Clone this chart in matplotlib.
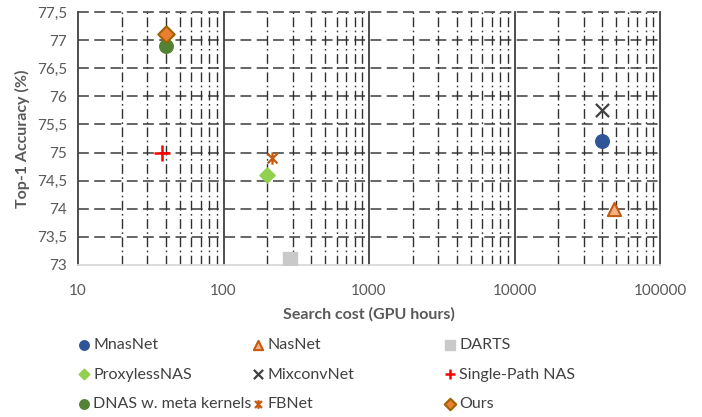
import numpy as np
import matplotlib
matplotlib.use("Agg")
import matplotlib.pyplot as plt
from matplotlib.path import Path
from matplotlib.ticker import FixedLocator, FuncFormatter, NullFormatter

plt.rcParams['font.family'] = ['Lato', 'DejaVu Sans']

# data
names  = ["MnasNet", "NasNet", "DARTS",
          "ProxylessNAS", "MixconvNet", "Single-Path NAS",
          "DNAS w. meta kernels", "FBNet", "Ours"]
cost   = [40000, 48000, 288, 200, 40000, 38, 40, 216, 40]
top1   = [75.2, 74.0, 73.1, 74.6, 75.75, 75.0, 76.9, 74.9, 77.1]

x_ticks = [10, 100, 1000, 10000, 100000]
y_ticks = [73, 73.5, 74, 74.5, 75, 75.5, 76, 76.5, 77, 77.5]

# excel style asterisk: x plus a vertical bar
star = Path([(-1, -1), (1, 1), (-1, 1), (1, -1), (0, -1.25), (0, 1.25)],
            [Path.MOVETO, Path.LINETO, Path.MOVETO, Path.LINETO, Path.MOVETO, Path.LINETO])

styles = [
    dict(marker='o', s=95, c='#2F5597', edgecolors='#2F5597', linewidths=1),
    dict(marker='^', s=90, c='#F4B183', edgecolors='#C55A11', linewidths=1.5),
    dict(marker='s', s=110, c='#C9C9C9', edgecolors='#C9C9C9', linewidths=1),
    dict(marker='D', s=60, c='#92D050', edgecolors='#92D050', linewidths=1),
    dict(marker='x', s=90, c='#404040', linewidths=1.6),
    dict(marker='+', s=120, c='#FF0000', linewidths=1.8),
    dict(marker='o', s=95, c='#548235', edgecolors='#548235', linewidths=1),
    dict(marker=star, s=80, c='#C55A11', linewidths=1.6),
    dict(marker='D', s=70, c='#ED7D31', edgecolors='#9C6500', linewidths=1.5),
]

fig = plt.figure(figsize=(7.02, 4.17), dpi=100)
ax = fig.add_axes([78/702, 1 - 265/417, 582/702, 253/417])

ax.set_xscale("log")
ax.set_xlim(10, 100000)
ax.set_ylim(73, 77.5)

# grid: dashed horizontals, dash-dot minor verticals, solid decade lines
for y in y_ticks[1:]:
    ax.axhline(y, color='#595959', linestyle=(0, (6, 3)), linewidth=1.3, zorder=1, clip_on=False)
for d in range(1, 5):
    for k in range(2, 10):
        ax.axvline(k * 10**d, color='#303030', linestyle=(0, (7, 2.5, 1.2, 2.5)),
                   linewidth=1.0, zorder=1)
for x in x_ticks:
    ax.axvline(x, color='#404040', linewidth=1.3, zorder=1, clip_on=False)

for sp in ['top', 'right', 'left']:
    ax.spines[sp].set_visible(False)
ax.spines['bottom'].set_color('#D9D9D9')
ax.spines['bottom'].set_linewidth(1.3)
ax.spines['bottom'].set_zorder(1.5)

handles = []
for n, cx, cy, st in zip(names, cost, top1, styles):
    h = ax.scatter([cx], [cy], zorder=3, label=n, **st)
    handles.append(h)

ax.xaxis.set_major_locator(FixedLocator(x_ticks))
ax.xaxis.set_major_formatter(FuncFormatter(lambda v, p: f"{int(v)}"))
ax.xaxis.set_minor_formatter(NullFormatter())
ax.yaxis.set_major_locator(FixedLocator(y_ticks))
ax.yaxis.set_major_formatter(FuncFormatter(lambda v, p: f"{v:g}".replace('.', ',')))
ax.tick_params(axis='both', which='both', length=0, labelsize=11, labelcolor='#595959')
ax.tick_params(axis='x', pad=14)
ax.tick_params(axis='y', pad=8)

ax.set_xlabel("Search cost (GPU hours)", fontsize=11.5, fontweight='bold', color='#595959', labelpad=6)
ax.set_ylabel("Top-1 Accuracy (%)", fontsize=11.5, fontweight='bold', color='#595959', labelpad=5)

# legend in three columns below the plot
col_x = [66, 240, 432]
for c in range(3):
    hs = [handles[r * 3 + c] for r in range(3)]
    fig.legend(hs, [h.get_label() for h in hs], loc='upper left',
               bbox_to_anchor=(col_x[c] / 702, 1 - 330 / 417),
               frameon=False, fontsize=11.5, labelcolor='#404040',
               handletextpad=0.0, labelspacing=0.95, markerscale=0.7,
               handlelength=1.2, borderpad=0.0)

plt.savefig("out.png", dpi=100)
